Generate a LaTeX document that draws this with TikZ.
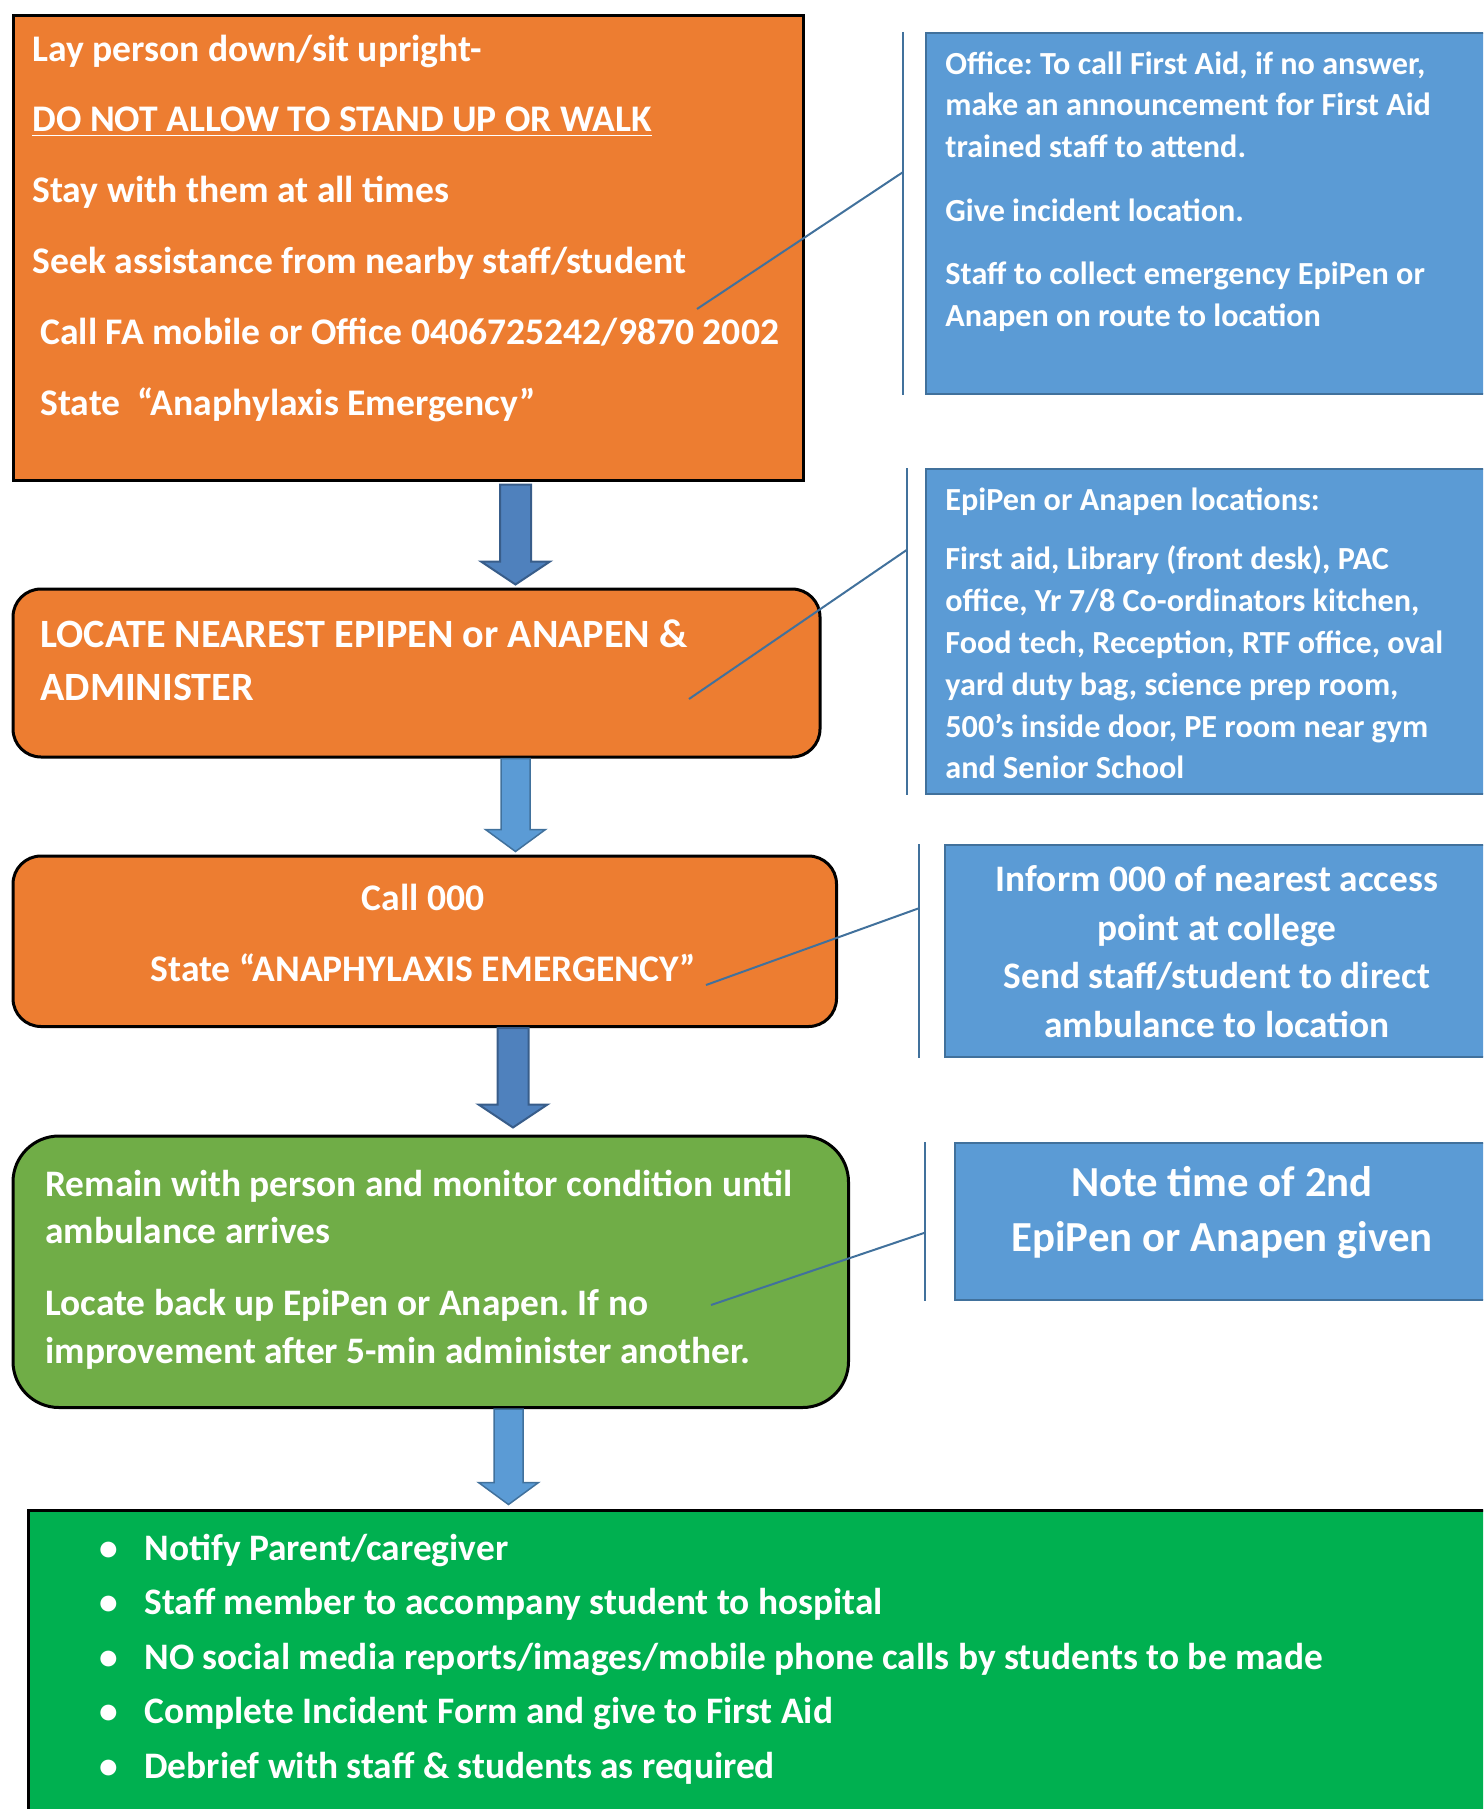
\documentclass[tikz,border=0pt]{standalone}
\usepackage{fontspec}
\setmainfont{Carlito}
\usepackage{tikz}
\usetikzlibrary{calc}
\frenchspacing

\definecolor{boxorange}{HTML}{ED7D31}
\definecolor{boxgreen}{HTML}{70AD47}
\definecolor{listgreen}{HTML}{00B050}
\definecolor{calloutblue}{HTML}{5B9BD5}
\definecolor{calloutline}{HTML}{41719C}
\definecolor{darkarrow}{HTML}{4F81BD}
\definecolor{darkarrowline}{HTML}{385D8A}

\tikzset{
	blockarrow/.style n args={3}{to path={
		let \p1=(\tikztostart), \p2=(\tikztotarget) in
		(\x1-#1,\y1) -- (\x1+#1,\y1) -- (\x1+#1,\y2+#3) -- (\x1+#2,\y2+#3)
		-- (\x1,\y2) -- (\x1-#2,\y2+#3) -- (\x1-#1,\y2+#3) -- cycle}},
}

\begin{document}
\begin{tikzpicture}[x=0.5pt, y=-0.5pt, line join=miter]
	\tikzstyle{sqbox}=[draw=black, line width=1.5pt, inner sep=0pt, anchor=north west]
	\tikzstyle{rndbox}=[sqbox, rounded corners=14pt]
	\tikzstyle{callout}=[draw=calloutline, fill=calloutblue, line width=1pt, inner sep=0pt, anchor=north west]
	\tikzstyle{boxtext}=[text=white, inner sep=0pt, align=left, anchor=north west]
	\tikzstyle{accentbar}=[draw=calloutline, line width=1pt]
	\tikzstyle{calloutleg}=[draw=calloutline, line width=1pt]
	\tikzstyle{darkblock}=[draw=darkarrowline, fill=darkarrow, line width=1pt, blockarrow={7.75pt}{17.25pt}{11.5pt}]
	\tikzstyle{lightblock}=[draw=calloutline, fill=calloutblue, line width=0.75pt, blockarrow={7.25pt}{15pt}{11pt}]

	\useasboundingbox (0,0) rectangle (1483,1809);
	\clip (0,0) rectangle (1483,1809);

	% main steps
	\node[sqbox, fill=boxorange, minimum width=395pt, minimum height=232pt] (b1) at (11.5,14.5) {};
	\node[rndbox, fill=boxorange, minimum width=403.5pt, minimum height=84pt] (b2) at (11.5,587.5) {};
	\node[rndbox, fill=boxorange, minimum width=411.75pt, minimum height=85.25pt] (b3) at (11.5,854.5) {};
	\node[rndbox, fill=boxgreen, rounded corners=23pt, minimum width=417.75pt, minimum height=135.75pt] (b4) at (11.5,1134.5) {};
	\node[sqbox, fill=listgreen, minimum width=746.75pt, minimum height=200pt] (b5) at (26.5,1508.5) {};

	% callouts
	\node[callout, minimum width=300pt, minimum height=180.5pt] (c1) at (925,32) {};
	\node[callout, minimum width=300pt, minimum height=162.5pt] (c2) at (925,468) {};
	\node[callout, minimum width=273pt, minimum height=106pt] (c3) at (944,844) {};
	\node[callout, minimum width=268pt, minimum height=78.5pt] (c4) at (954,1142) {};

	% texts
	\node[boxtext, font=\bfseries\fontsize{18.8}{35.4}\selectfont] (t1) at (32,34.3) {Lay person down/sit upright-\\
		\underline{DO NOT ALLOW TO STAND UP OR WALK}\\
		Stay with them at all times\\
		Seek assistance from nearby staff/student\\
		\hspace*{4pt}Call FA mobile or Office 0406725242/9870 2002\\
		\hspace*{4pt}State\ \ “Anaphylaxis Emergency”};
	\node[boxtext, font=\bfseries\fontsize{20.1}{26.6}\selectfont] (t2) at (40,619.3) {LOCATE NEAREST EPIPEN or ANAPEN \&\\
		ADMINISTER};
	\node[boxtext, align=center, anchor=north, font=\bfseries\fontsize{18.8}{35.8}\selectfont] (t3) at (423,883.5) {Call 000\\
		State “ANAPHYLAXIS EMERGENCY”};
	\node[boxtext, font=\bfseries\fontsize{18.7}{23.6}\selectfont] (t4) at (45,1169.7) {Remain with person and monitor condition until\\
		ambulance arrives\\[12.5pt]
		Locate back up EpiPen or Anapen. If no\\
		improvement after 5-min administer another.};
	\node[boxtext, font=\bfseries\fontsize{18.7}{27.3}\selectfont] (t5) at (99,1533.3) {\makebox[22.5pt][l]{•}Notify Parent/caregiver\\
		\makebox[22.5pt][l]{•}Staff member to accompany student to hospital\\
		\makebox[22.5pt][l]{•}NO social media reports/images/mobile phone calls by students to be made\\
		\makebox[22.5pt][l]{•}Complete Incident Form and give to First Aid\\
		\makebox[22.5pt][l]{•}Debrief with staff \& students as required};
	\node[boxtext, font=\bfseries\fontsize{16.1}{20.8}\selectfont] (tc1) at (945,51.2) {Office: To call First Aid, if no answer,\\
		make an announcement for First Aid\\
		trained staff to attend.\\[11pt]
		Give incident location.\\[11pt]
		Staff to collect emergency EpiPen or\\
		Anapen on route to location};
	\node[boxtext, font=\bfseries\fontsize{16.1}{20.9}\selectfont] (tc2) at (945,487.4) {EpiPen or Anapen locations:\\[8.8pt]
		First aid, Library (front desk), PAC\\
		office, Yr 7/8 Co-ordinators kitchen,\\
		Food tech, Reception, RTF office, oval\\
		yard duty bag, science prep room,\\
		500’s inside door, PE room near gym\\
		and Senior School};
	\node[boxtext, align=center, anchor=north, font=\bfseries\fontsize{18.7}{24.3}\selectfont] (tc3) at (1217,865.2) {Inform 000 of nearest access\\
		point at college\\
		Send staff/student to direct\\
		ambulance to location};
	\node[boxtext, align=center, anchor=north, font=\bfseries\fontsize{21.4}{27.5}\selectfont] (tc4) at (1222,1165.9) {Note time of 2nd\\
		EpiPen or Anapen given};

	% block arrows
	\path[darkblock] ($(b1.south -| 515.5,0)+(0,3)$) to ($(b2.north -| 515.5,0)+(0,-3)$);
	\path[lightblock] (b2.south -| 515.5,0) to ($(b3.north -| 515.5,0)+(0,-3)$);
	\path[darkblock] (b3.south -| 513,0) to ($(b4.north -| 513,0)+(0,-7)$);
	\path[lightblock] (b4.south -| 508.5,0) to ($(b5.north -| 508.5,0)+(0,-4)$);

	% callout legs
	\coordinate (l1) at (697,309);
	\coordinate (l2) at (689,699);
	\coordinate (l3) at (706,985);
	\coordinate (l4) at (711,1305);
	\draw[accentbar] ($(c1.north west)+(-22,0)$) -- ($(c1.south west)+(-22,0)$);
	\draw[calloutleg] (l1) -- ($(c1.north west)!.386!(c1.south west)+(-22,0)$);
	\draw[accentbar] ($(c2.north west)+(-18,0)$) -- ($(c2.south west)+(-18,0)$);
	\draw[calloutleg] (l2) -- ($(c2.north west)!.25!(c2.south west)+(-18,0)$);
	\draw[accentbar] ($(c3.north west)+(-25,0)$) -- ($(c3.south west)+(-25,0)$);
	\draw[calloutleg] (l3) -- ($(c3.north west)!.30!(c3.south west)+(-25,0)$);
	\draw[accentbar] ($(c4.north west)+(-29,0)$) -- ($(c4.south west)+(-29,0)$);
	\draw[calloutleg] (l4) -- ($(c4.north west)!.57!(c4.south west)+(-29,0)$);
\end{tikzpicture}
\end{document}
